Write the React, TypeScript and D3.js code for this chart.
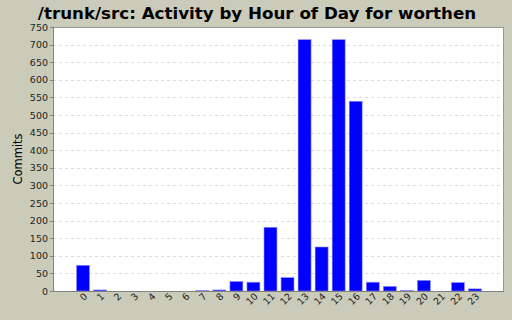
import React from "react";
import * as d3 from "d3";

const hours = ["0","1","2","3","4","5","6","7","8","9","10","11","12","13","14","15","16","17","18","19","20","21","22","23"];
const commits = [73, 3, 0, 0, 0, 0, 0, 1, 3, 27, 25, 181, 38, 714, 125, 714, 539, 25, 13, 1, 30, 0, 24, 6];
const yTicks = [0,50,100,150,200,250,300,350,400,450,500,550,600,650,700,750];
const title = "/trunk/src: Activity by Hour of Day for worthen";
const yLabel = "Commits";

const W = 512, H = 320;
const plot = { left: 53, right: 504, top: 27, bottom: 291 };

export default function App() {
  const x = d3.scaleBand<string>()
    .domain(hours)
    .range([74.5, 483.5])
    .paddingInner(0.24)
    .paddingOuter(0.12);
  const y = d3.scaleLinear().domain([0, 750]).range([plot.bottom, plot.top]);
  const font = "'DejaVu Sans', sans-serif";
  return (
    <svg width={W} height={H} style={{ position: "absolute", left: 0, top: 0 }} fontFamily={font}>
      <rect x={0} y={0} width={W} height={H} fill="#cbcbb9" />
      <text x={257} y={18.5} textAnchor="middle" fontSize={16.7} fontWeight="bold" fill="#000">{title}</text>
      <rect x={plot.left} y={plot.top} width={plot.right - plot.left} height={plot.bottom - plot.top} fill="#fff" />
      {yTicks.map((t) => (
        <g key={t}>
          {t > 0 && t < 750 && (
            <line x1={plot.left} x2={plot.right} y1={Math.round(y(t)) + 0.5} y2={Math.round(y(t)) + 0.5}
              stroke="#dcdcdc" strokeWidth={1} strokeDasharray="3,3" />
          )}
          <line x1={plot.left - 3} x2={plot.left} y1={Math.round(y(t)) + 0.5} y2={Math.round(y(t)) + 0.5} stroke="#808080" />
          <text x={plot.left - 5} y={y(t) + 3.5} textAnchor="end" fontSize={9.5} fill="#222">{t}</text>
        </g>
      ))}
      {hours.map((h, i) => {
        const v = commits[i];
        const x0 = x(h)!;
        const bw = x.bandwidth();
        const yTop = y(v);
        return (
          <g key={h}>
            {v > 0 && (
              <rect x={x0} y={yTop} width={bw} height={plot.bottom - yTop} fill="#0000ff" stroke="#8c8cff" strokeWidth={0.6} />
            )}
          </g>
        );
      })}
      <rect x={plot.left + 0.5} y={plot.top + 0.5} width={plot.right - plot.left - 1} height={plot.bottom - plot.top} fill="none" stroke="#9a9a9a" />
      <line x1={plot.left + 0.5} x2={plot.left + 0.5} y1={plot.top} y2={plot.bottom + 1} stroke="#808080" />
      <line x1={plot.left} x2={plot.right} y1={plot.bottom + 0.5} y2={plot.bottom + 0.5} stroke="#808080" />
      {hours.map((h) => {
        const cx = x(h)! + x.bandwidth() / 2;
        return (
          <text key={h} transform={`translate(${cx + 5},${plot.bottom + 6}) rotate(-45)`} textAnchor="end" fontSize={9.5} fill="#222">{h}</text>
        );
      })}
      <text transform={`translate(22,${(plot.top + plot.bottom) / 2}) rotate(-90)`} textAnchor="middle" fontSize={11.5} fill="#000">{yLabel}</text>
    </svg>
  );
}
